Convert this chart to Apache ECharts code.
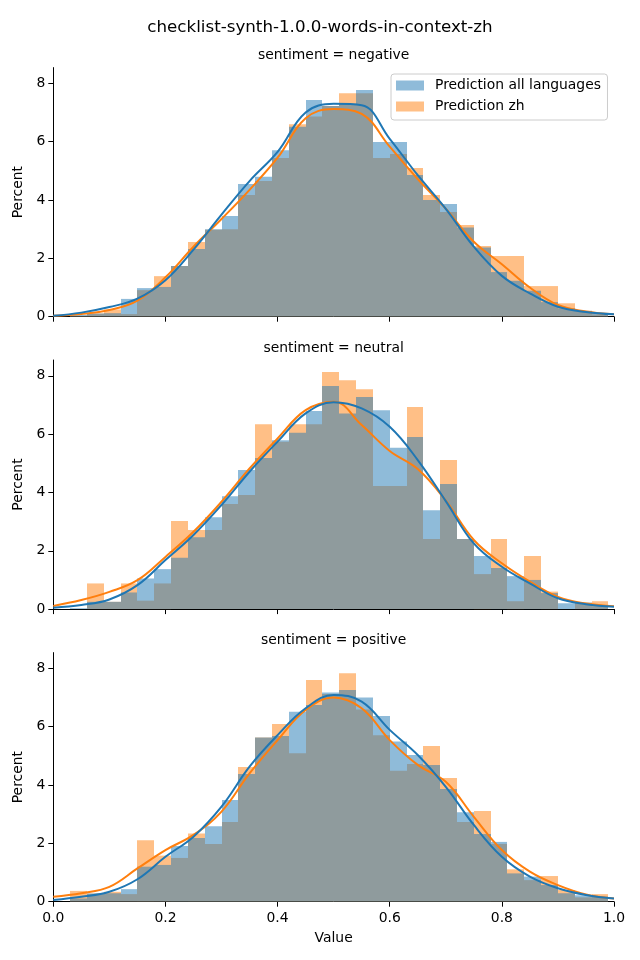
<!DOCTYPE html>
<html>
<head>
<meta charset="utf-8">
<script src="https://cdn.jsdelivr.net/npm/echarts@6/dist/echarts.min.js"></script>
<style>html,body{margin:0;padding:0;background:#fff}#c{width:640px;height:960px}</style>
</head>
<body>
<div id="c"></div>
<script>
// ---- data ----
const mainTitle = 'checklist-synth-1.0.0-words-in-context-zh';
const panelTitles = ['sentiment = negative', 'sentiment = neutral', 'sentiment = positive'];
const seriesNames = ['Prediction all languages', 'Prediction zh'];
const binStarts = [0.03,0.06,0.09,0.12,0.15,0.18,0.21,0.24,0.27,0.30,0.33,0.36,0.39,0.42,0.45,0.48,
                   0.51,0.54,0.57,0.60,0.63,0.66,0.69,0.72,0.75,0.78,0.81,0.84,0.87,0.90,0.93,0.96];
const binWidth = 0.03;
const negAll = [0.06,0.11,0.12,0.61,0.98,1.02,1.74,2.32,3.0,3.45,4.55,4.8,5.71,6.51,7.43,7.22,
                7.3,7.77,5.99,5.99,4.86,4.0,3.86,3.06,2.37,1.53,1.23,0.89,0.5,0.29,0.2,0.12];
const negZh  = [0.03,0.11,0.25,0.09,0.91,1.39,1.74,2.56,2.98,3.0,4.17,4.65,5.44,6.6,6.86,7.22,
                7.66,7.66,5.44,5.58,5.10,4.17,3.59,3.14,2.42,2.08,2.08,1.05,1.05,0.46,0.2,0.08];
const neuAll = [0.03,0.25,0.25,0.57,1.05,1.37,1.76,2.46,3.15,3.87,4.77,5.18,5.79,6.05,6.79,7.65,
                6.71,7.27,6.82,5.53,5.9,3.39,4.29,2.4,1.82,1.41,1.13,1.0,0.55,0.2,0.22,0.1];
const neuZh  = [0.0,0.88,0.25,0.88,0.29,0.88,3.02,2.71,2.71,3.6,3.91,6.34,5.74,6.34,6.34,8.13,
                7.85,7.54,4.22,4.22,6.93,2.4,5.11,2.4,1.2,2.4,0.27,1.82,0.6,0.0,0.22,0.27];
const posAll = [0.11,0.28,0.29,0.43,1.2,1.26,1.91,2.18,2.59,3.49,4.38,5.63,5.68,6.51,6.74,7.17,
                7.26,7.0,6.37,5.49,5.03,4.69,3.86,3.07,2.32,2.05,0.97,0.86,0.57,0.29,0.22,0.17];
const posZh  = [0.37,0.28,0.34,0.26,2.11,1.58,1.5,2.34,1.98,2.73,4.62,5.63,6.09,5.09,7.6,7.12,
                7.83,6.59,5.71,4.49,4.72,5.34,4.24,2.73,3.11,1.98,1.11,0.74,0.88,0.4,0.15,0.26];
const kdeX = [0,0.05,0.1,0.15,0.2,0.25,0.3,0.35,0.4,0.45,0.5,0.55,0.6,0.65,0.7,0.75,0.8,0.85,0.9,0.95,1.0];
const negAllKde = [0.03,0.14,0.33,0.62,1.25,2.3,3.5,4.65,5.65,7.0,7.3,7.25,6.1,4.85,3.7,2.4,1.4,0.8,0.34,0.16,0.08];
const negZhKde  = [0.03,0.09,0.23,0.55,1.35,2.4,3.35,4.35,5.45,6.8,7.12,6.95,5.83,4.72,3.7,2.57,1.8,1.0,0.4,0.18,0.08];
const neuAllKde = [0.05,0.14,0.33,0.82,1.68,2.54,3.57,4.71,5.74,6.71,7.09,6.88,6.25,5.11,3.7,2.25,1.45,0.88,0.37,0.17,0.08];
const neuZhKde  = [0.11,0.31,0.59,0.99,1.79,2.65,3.68,4.82,5.85,6.82,7.11,6.31,5.42,4.8,3.72,2.37,1.57,0.94,0.42,0.19,0.1];
const posAllKde = [0.06,0.17,0.34,0.77,1.54,2.23,3.26,4.63,5.71,6.63,7.09,6.86,5.89,5.03,3.94,2.63,1.54,0.86,0.46,0.23,0.11];
const posZhKde  = [0.17,0.29,0.51,1.14,1.77,2.29,3.09,4.4,5.54,6.57,7.0,6.63,5.54,4.69,4.11,2.91,1.77,1.03,0.57,0.25,0.11];
const yTicks = [0,2,4,6,8];
const xTicks = [0,0.2,0.4,0.6,0.8,1.0];

// ---- chart ----
const FONT = 'DejaVu Sans';
const BLUE = '#1f77b4', ORANGE = '#ff7f0e';
const BLUE_A = 'rgba(31,119,180,0.5)', ORANGE_A = 'rgba(255,127,14,0.5)';
const panels = [
  {all: negAll, zh: negZh, allK: negAllKde, zhK: negZhKde},
  {all: neuAll, zh: neuZh, allK: neuAllKde, zhK: neuZhKde},
  {all: posAll, zh: posZh, allK: posAllKde, zhK: posZhKde}
];
const gridLeft = 53.3, gridWidth = 560.7, gridH = 249.1;
const gridTops = [67.6, 360.0, 652.6];
const yMax = 8.54;

function histRender(params, api) {
  const p0 = api.coord([api.value(0), 0]);
  const p1 = api.coord([api.value(1), api.value(2)]);
  const xl = Math.round(p0[0]), xr = Math.round(p1[0]);
  return {type: 'rect',
    shape: {x: xl, y: p1[1], width: xr - xl, height: p0[1] - p1[1]},
    style: {fill: api.visual('color')}};
}
function histData(vals) { return binStarts.map((s, i) => [s, s + binWidth, vals[i]]); }
function kdeData(vals) { return kdeX.map((x, i) => [x, vals[i]]); }

const grid = [], xAxis = [], yAxis = [], series = [], title = [];
title.push({text: mainTitle, left: 'center', top: 18, padding: 0,
  textStyle: {fontFamily: FONT, fontSize: 16.7, fontWeight: 'normal', color: '#000', lineHeight: 20}});
panels.forEach((p, i) => {
  grid.push({left: gridLeft, top: gridTops[i], width: gridWidth, height: gridH});
  title.push({text: panelTitles[i], left: gridLeft + gridWidth / 2, textAlign: 'center',
    top: gridTops[i] - 20, padding: 0,
    textStyle: {fontFamily: FONT, fontSize: 13.9, fontWeight: 'normal', color: '#000', lineHeight: 16}});
  xAxis.push({type: 'value', gridIndex: i, min: 0, max: 1, interval: 0.2,
    splitLine: {show: false},
    axisLine: {show: true, onZero: false, lineStyle: {color: '#000', width: 1}},
    axisTick: {show: true, length: 5, lineStyle: {color: '#000', width: 1}, customValues: xTicks},
    axisLabel: {show: i === 2, color: '#000', fontFamily: FONT, fontSize: 13.9, margin: 10,
      customValues: xTicks, formatter: v => v.toFixed(1)},
    name: i === 2 ? 'Value' : '', nameLocation: 'middle', nameGap: 30,
    nameTextStyle: {fontFamily: FONT, fontSize: 13.9, color: '#000'}});
  yAxis.push({type: 'value', gridIndex: i, min: 0, max: yMax,
    splitLine: {show: false},
    axisLine: {show: true, lineStyle: {color: '#000', width: 1}},
    axisTick: {show: true, length: 5, lineStyle: {color: '#000', width: 1}, customValues: yTicks},
    axisLabel: {color: '#000', fontFamily: FONT, fontSize: 13.9, margin: 8, customValues: yTicks},
    name: 'Percent', nameLocation: 'middle', nameGap: 21, nameRotate: 90,
    nameTextStyle: {fontFamily: FONT, fontSize: 13.9, color: '#000'}});
  series.push({type: 'custom', name: seriesNames[1], xAxisIndex: i, yAxisIndex: i,
    renderItem: histRender, itemStyle: {color: ORANGE_A}, encode: {x: [0, 1], y: 2},
    data: histData(p.zh), z: 1, silent: true});
  series.push({type: 'custom', name: seriesNames[0], xAxisIndex: i, yAxisIndex: i,
    renderItem: histRender, itemStyle: {color: BLUE_A}, encode: {x: [0, 1], y: 2},
    data: histData(p.all), z: 2, silent: true});
  series.push({type: 'line', name: 'kde zh', xAxisIndex: i, yAxisIndex: i, data: kdeData(p.zhK),
    smooth: 0.4, showSymbol: false, lineStyle: {color: ORANGE, width: 2}, itemStyle: {color: ORANGE}, z: 3, silent: true});
  series.push({type: 'line', name: 'kde all', xAxisIndex: i, yAxisIndex: i, data: kdeData(p.allK),
    smooth: 0.4, showSymbol: false, lineStyle: {color: BLUE, width: 2}, itemStyle: {color: BLUE}, z: 4, silent: true});
});

const chart = echarts.init(document.getElementById('c'), null, {renderer: 'canvas'});
chart.setOption({
  animation: false,
  backgroundColor: '#fff',
  title: title,
  grid: grid, xAxis: xAxis, yAxis: yAxis, series: series,
  legend: {show: true, orient: 'vertical', left: 391, top: 74, icon: 'rect',
    itemWidth: 28, itemHeight: 10, itemGap: 5, padding: [3.5, 6.5, 5.5, 5],
    backgroundColor: 'rgba(255,255,255,0.8)', borderColor: '#cccccc', borderWidth: 1, borderRadius: 3,
    selectedMode: false,
    textStyle: {fontFamily: FONT, fontSize: 13.9, color: '#000', lineHeight: 16, padding: [0, 0, 0, 6]},
    data: [{name: seriesNames[0], itemStyle: {color: BLUE_A}}, {name: seriesNames[1], itemStyle: {color: ORANGE_A}}]}
});
</script>
</body>
</html>
